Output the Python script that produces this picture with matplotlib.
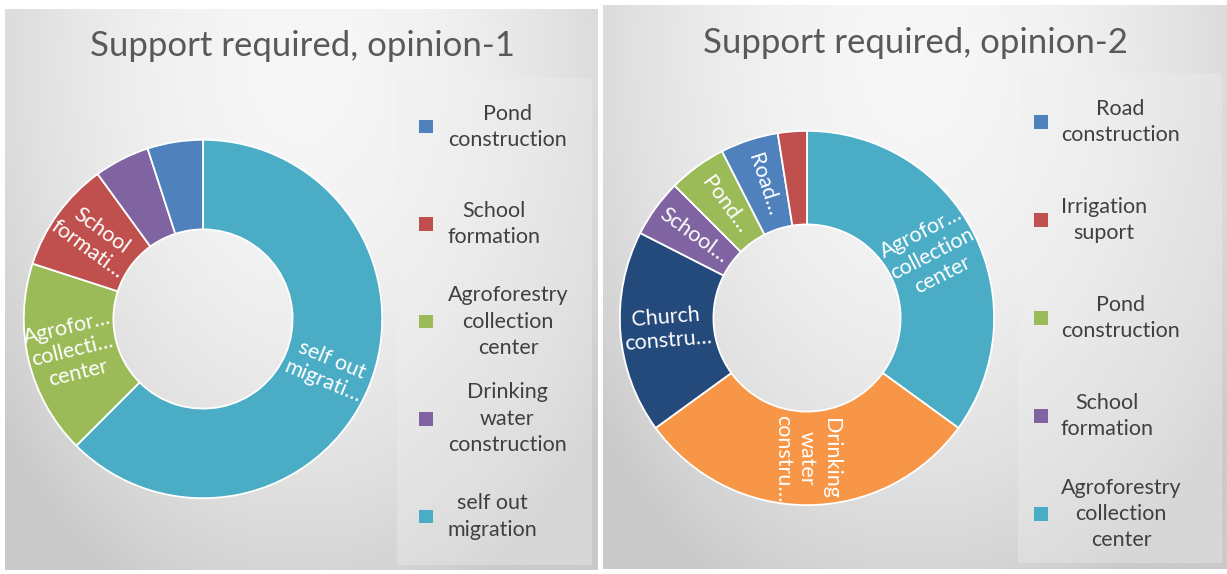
import textwrap
import numpy as np
import matplotlib
matplotlib.use("Agg")
import matplotlib.pyplot as plt

plt.rcParams['font.family'] = ['Lato', 'DejaVu Sans']

W, H = 1227, 574

# opinion-1 (legend order)
cats1 = ["Pond construction", "School formation", "Agroforestry collection center",
         "Drinking water construction", "self out migration"]
vals1 = [2, 4, 7, 2, 25]
cols1 = ["#4F81BD", "#C0504D", "#9BBB59", "#8064A2", "#4BACC6"]
short1 = ["", "School\nformati…", "Agrofor…\ncollecti…\ncenter", "", "self out\nmigrati…"]
ring1 = [4, 2, 1, 3, 0]          # clockwise from 12 o'clock

# opinion-2 (legend order)
cats2 = ["Road construction", "Irrigation suport", "Pond construction", "School formation",
         "Agroforestry collection center", "Drinking water construction", "Church construction"]
vals2 = [2, 1, 2, 2, 14, 12, 7]
cols2 = ["#4F81BD", "#C0504D", "#9BBB59", "#8064A2", "#4BACC6", "#F79646", "#24497B"]
short2 = ["Road…", "", "Pond…", "School…", "Agrofor…\ncollection\ncenter",
          "Drinking\nwater\nconstru…", "Church\nconstru…"]
ring2 = [4, 5, 6, 3, 2, 0, 1]
shown2 = 5                       # legend is cut after 5 entries


def px_box(x0, y0, x1, y1):
    # pixel box (top-left origin) -> figure fraction
    return [x0 / W, 1 - y1 / H, (x1 - x0) / W, (y1 - y0) / H]


def panel(fig, box):
    ax = fig.add_axes(px_box(*box))
    yy, xx = np.mgrid[0:1:200j, 0:1:300j]
    d2 = ((xx - 0.5) / 0.6) ** 2 + ((yy - 0.08) / 1.0) ** 2
    img = np.clip(0.965 - 0.15 * d2, 0.79, 1)
    ax.imshow(img, cmap="gray", vmin=0, vmax=1, aspect="auto",
              extent=(0, 1, 1, 0), interpolation="bicubic")
    ax.set_axis_off()
    return ax


def donut(fig, cx, cy, r, cats, vals, cols, short, ring):
    ax = fig.add_axes(px_box(cx - r, cy - r, cx + r, cy + r))
    v = [vals[i] for i in ring]
    c = [cols[i] for i in ring]
    wedges, _ = ax.pie(v, colors=c, startangle=90, counterclock=False,
                       wedgeprops=dict(width=0.5, edgecolor="white", linewidth=1.3))
    ax.set_xlim(-1.01, 1.01)
    ax.set_ylim(-1.01, 1.01)
    for w, i in zip(wedges, ring):
        if not short[i]:
            continue
        mid = (w.theta1 + w.theta2) / 2
        a = np.deg2rad(mid)
        rot = (mid + 180) % 360 - 180
        if rot > 90:
            rot -= 180
        elif rot < -90:
            rot += 180
        ax.text(0.75 * np.cos(a), 0.75 * np.sin(a), short[i], color="white",
                fontsize=15.5, ha="center", va="center", rotation=rot,
                rotation_mode="anchor", multialignment="center", linespacing=1.22)
    return ax


def legend(fig, box, cats, cols, n_show, n_slots, mx, tx):
    ax = fig.add_axes(px_box(*box))
    ax.set_facecolor("#f0f0f0")
    ax.patch.set_alpha(0.35)
    for s in ax.spines.values():
        s.set_visible(False)
    ax.set_xticks([])
    ax.set_yticks([])
    ax.set_xlim(0, 1)
    ax.set_ylim(0, 1)
    for k in range(n_show):
        y = 1 - (k + 0.5) / n_slots
        ax.scatter([mx], [y], marker="s", s=95, color=cols[k], edgecolors="none")
        ax.text(tx, y, textwrap.fill(cats[k], 12), ha="left", va="center",
                multialignment="center", fontsize=15.5, color="#404040",
                linespacing=1.4)
    return ax


fig = plt.figure(figsize=(W / 100, H / 100), dpi=100)
fig.patch.set_facecolor("white")

panel(fig, (5, 9, 598, 570))
panel(fig, (603, 5, 1227, 569))

fig.text(303 / W, 1 - 46 / H, "Support required, opinion-1", ha="center", va="center",
         fontsize=25, color="#595959")
fig.text(915 / W, 1 - 43 / H, "Support required, opinion-2", ha="center", va="center",
         fontsize=25, color="#595959")

donut(fig, 203, 319, 181, cats1, vals1, cols1, short1, ring1)
donut(fig, 807, 318, 189, cats2, vals2, cols2, short2, ring2)

legend(fig, (397, 78, 592, 565), cats1, cols1, len(cats1), 5, 0.15, 0.26)
legend(fig, (1018, 73, 1222, 563), cats2, cols2, shown2, 5, 0.113, 0.21)

fig.savefig("out.png", dpi=100)
